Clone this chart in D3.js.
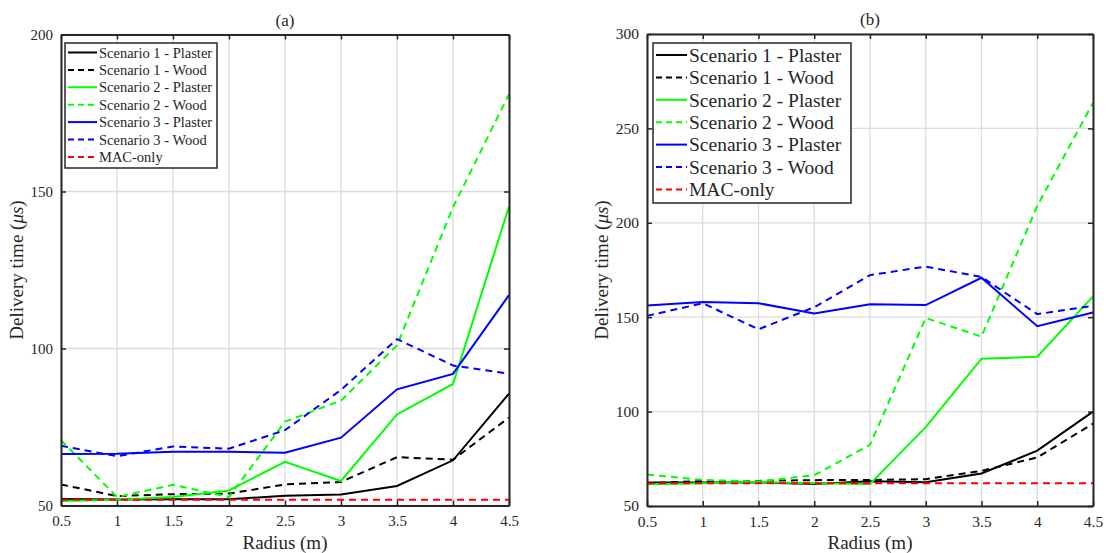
<!DOCTYPE html>
<html>
<head>
<meta charset="utf-8">
<script src="https://cdn.jsdelivr.net/npm/d3@7"></script>
<style>
  body { margin: 0; background: #fff; }
</style>
</head>
<body>
<svg id="chart" width="1107" height="553"></svg>
<script>
const radius = [0.5, 1, 1.5, 2, 2.5, 3, 3.5, 4, 4.5];

const seriesNames = ["Scenario 1 - Plaster", "Scenario 1 - Wood", "Scenario 2 - Plaster",
    "Scenario 2 - Wood", "Scenario 3 - Plaster", "Scenario 3 - Wood", "MAC-only"];
const seriesColors = ["#000000", "#000000", "#00ff00", "#00ff00", "#0000ff", "#0000ff", "#ff0000"];
const seriesDashed = [false, true, false, true, false, true, true];

// panel (a)
const a_s1Plaster = [52.1, 51.9, 52.0, 52.0, 53.1, 53.5, 56.2, 64.4, 85.6];
const a_s1Wood    = [56.7, 53.0, 53.6, 53.8, 56.7, 57.5, 65.4, 64.6, 78.0];
const a_s2Plaster = [51.4, 51.8, 52.7, 54.8, 63.9, 57.8, 79.0, 88.7, 145.2];
const a_s2Wood    = [70.8, 52.7, 56.6, 52.7, 76.7, 83.4, 101.0, 145.0, 181.0];
const a_s3Plaster = [66.4, 66.5, 67.1, 67.1, 66.8, 71.6, 87.0, 91.9, 117.0];
const a_s3Wood    = [69.0, 65.7, 68.8, 68.1, 74.0, 86.8, 103.0, 94.6, 92.0];
const a_macOnly   = [51.8, 51.8, 51.8, 51.8, 51.8, 51.8, 51.8, 51.8, 51.8];

// panel (b)
const b_s1Plaster = [62.4, 62.4, 62.5, 61.7, 63.1, 62.6, 67.2, 79.3, 100.0];
const b_s1Wood    = [62.0, 63.3, 63.3, 63.7, 63.8, 64.2, 68.6, 75.7, 93.6];
const b_s2Plaster = [61.5, 62.0, 62.6, 62.0, 61.7, 91.8, 128.0, 129.1, 161.0];
const b_s2Wood    = [66.7, 63.8, 63.0, 66.3, 82.4, 149.6, 139.7, 209.0, 263.5];
const b_s3Plaster = [156.2, 158.0, 157.4, 152.0, 156.9, 156.4, 170.9, 145.2, 152.5];
const b_s3Wood    = [150.7, 157.4, 143.6, 155.3, 172.3, 176.8, 171.3, 151.6, 156.0];
const b_macOnly   = [62.0, 62.0, 62.0, 62.0, 62.0, 62.0, 62.0, 62.0, 62.0];

const xTicks = [0.5, 1, 1.5, 2, 2.5, 3, 3.5, 4, 4.5];
const xTickLabels = ["0.5", "1", "1.5", "2", "2.5", "3", "3.5", "4", "4.5"];
const aYTicks = [50, 100, 150, 200];
const bYTicks = [50, 100, 150, 200, 250, 300];

const svg = d3.select("#chart");
const axisColor = "#262626";
const serif = "'Liberation Serif', 'Times New Roman', 'DejaVu Serif', serif";

function drawPanel(cfg) {
    const x = d3.scaleLinear().domain([0.5, 4.5]).range([cfg.left, cfg.right]);
    const y = d3.scaleLinear().domain(cfg.yDomain).range([cfg.bottom, cfg.top]);
    const g = svg.append("g");

    // grid
    g.append("g").selectAll("line.vg")
        .data(xTicks)
        .join("line")
        .attr("x1", d => x(d)).attr("x2", d => x(d))
        .attr("y1", cfg.top).attr("y2", cfg.bottom)
        .attr("stroke", "#dcdcdc").attr("stroke-width", 1.3);
    g.append("g").selectAll("line.hg")
        .data(cfg.yTicks)
        .join("line")
        .attr("x1", cfg.left).attr("x2", cfg.right)
        .attr("y1", d => y(d)).attr("y2", d => y(d))
        .attr("stroke", "#dcdcdc").attr("stroke-width", 1.3);

    // lines
    const line = d3.line().x((d, i) => x(radius[i])).y(d => y(d));
    cfg.series.forEach((vals, k) => {
        g.append("path")
            .datum(vals)
            .attr("d", line)
            .attr("fill", "none")
            .attr("stroke", seriesColors[k])
            .attr("stroke-width", 2)
            .attr("stroke-dasharray", seriesDashed[k] ? "7,5" : null);
    });

    // axes (inward ticks, box)
    const bottomAxis = d3.axisBottom(x).tickValues(xTicks).tickFormat((d, i) => xTickLabels[i])
        .tickSizeInner(-5).tickSizeOuter(0).tickPadding(10);
    const ax = g.append("g").attr("transform", `translate(0,${cfg.bottom})`).call(bottomAxis);
    const topAxis = d3.axisTop(x).tickValues(xTicks).tickFormat("").tickSizeInner(-5).tickSizeOuter(0);
    const at = g.append("g").attr("transform", `translate(0,${cfg.top})`).call(topAxis);
    const leftAxis = d3.axisLeft(y).tickValues(cfg.yTicks).tickSizeInner(-5).tickSizeOuter(0).tickPadding(8);
    const al = g.append("g").attr("transform", `translate(${cfg.left},0)`).call(leftAxis);
    const rightAxis = d3.axisRight(y).tickValues(cfg.yTicks).tickFormat("").tickSizeInner(-5).tickSizeOuter(0);
    const ar = g.append("g").attr("transform", `translate(${cfg.right},0)`).call(rightAxis);
    [ax, at, al, ar].forEach(a => {
        a.attr("font-family", serif).attr("font-size", cfg.tickFont);
        a.selectAll("path").attr("stroke", axisColor).attr("stroke-width", 2);
        a.selectAll("line").attr("stroke", axisColor).attr("stroke-width", 1.5);
        a.selectAll("text").attr("fill", axisColor).attr("font-family", serif).attr("font-size", cfg.tickFont);
    });

    // labels
    g.append("text").attr("x", (cfg.left + cfg.right) / 2).attr("y", cfg.top - 9)
        .attr("text-anchor", "middle").attr("font-family", serif).attr("font-size", 17)
        .attr("fill", axisColor).text(cfg.title);
    g.append("text").attr("x", (cfg.left + cfg.right) / 2).attr("y", cfg.bottom + 43)
        .attr("text-anchor", "middle").attr("font-family", serif).attr("font-size", 19)
        .attr("fill", axisColor).text("Radius (m)");
    const yl = g.append("text")
        .attr("transform", `translate(${cfg.yLabelX},${(cfg.top + cfg.bottom) / 2}) rotate(-90)`)
        .attr("text-anchor", "middle").attr("font-family", serif).attr("font-size", 19)
        .attr("fill", axisColor);
    yl.append("tspan").text("Delivery time (");
    yl.append("tspan").attr("font-style", "italic").text("\u03bcs");
    yl.append("tspan").text(")");

    // legend
    const lg = g.append("g");
    lg.append("rect")
        .attr("x", cfg.leg.x).attr("y", cfg.leg.y)
        .attr("width", cfg.leg.w).attr("height", cfg.leg.h)
        .attr("fill", "#fff").attr("stroke", axisColor).attr("stroke-width", 1.5);
    seriesNames.forEach((name, k) => {
        const cy = cfg.leg.y + cfg.leg.first + k * cfg.leg.step;
        lg.append("line")
            .attr("x1", cfg.leg.x + 3).attr("x2", cfg.leg.x + cfg.leg.lineW)
            .attr("y1", cy).attr("y2", cy)
            .attr("stroke", seriesColors[k]).attr("stroke-width", 2)
            .attr("stroke-dasharray", seriesDashed[k] ? "6,4" : null);
        lg.append("text")
            .attr("x", cfg.leg.x + cfg.leg.lineW + 2).attr("y", cy)
            .attr("dy", "0.35em")
            .attr("font-family", serif).attr("font-size", cfg.leg.font)
            .attr("fill", axisColor)
            .text(name);
    });
}

drawPanel({
    left: 61, right: 509, top: 34.5, bottom: 505.5,
    yDomain: [50, 200], yTicks: aYTicks, title: "(a)", yLabelX: 23, tickFont: 15,
    series: [a_s1Plaster, a_s1Wood, a_s2Plaster, a_s2Wood, a_s3Plaster, a_s3Wood, a_macOnly],
    leg: { x: 65, y: 43, w: 152, h: 125, first: 9.5, step: 17.4, lineW: 32, font: 14.5 }
});

drawPanel({
    left: 647, right: 1093, top: 34, bottom: 506,
    yDomain: [50, 300], yTicks: bYTicks, title: "(b)", yLabelX: 608, tickFont: 15.5,
    series: [b_s1Plaster, b_s1Wood, b_s2Plaster, b_s2Wood, b_s3Plaster, b_s3Wood, b_macOnly],
    leg: { x: 653, y: 43, w: 198, h: 160, first: 12, step: 22.4, lineW: 34, font: 19.5 }
});
</script>
</body>
</html>
